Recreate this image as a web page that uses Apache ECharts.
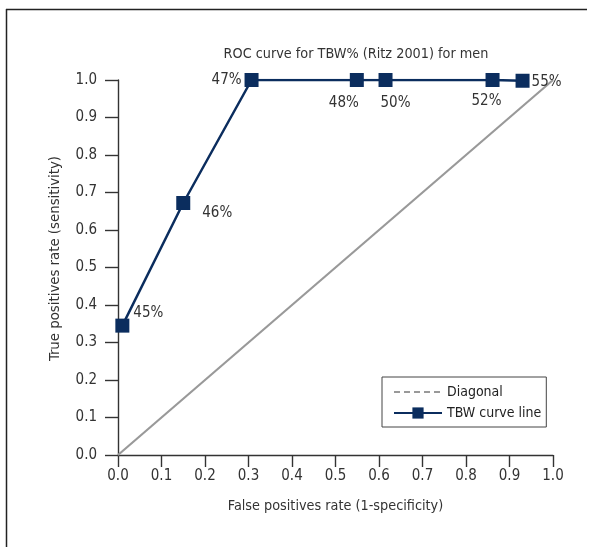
<!DOCTYPE html>
<html>
<head>
<meta charset="utf-8">
<script src="https://cdn.jsdelivr.net/npm/echarts@6/dist/echarts.min.js"></script>
<style>html,body{margin:0;padding:0;background:#fff}#c{width:598px;height:547px}</style>
</head>
<body>
<div id="c"></div>
<script>
var fprValues = [0.01, 0.15, 0.307, 0.549, 0.615, 0.861, 0.93];
var tprValues = [0.345, 0.672, 1.0, 1.0, 1.0, 1.0, 0.998];
var pointLabels = ['45%', '46%', '47%', '48%', '50%', '52%', '55%'];
var diagonalX = [0, 1];
var diagonalY = [0, 1];

var FONT = '"DejaVu Sans Condensed", "Noto Sans", sans-serif';
var NAVY = '#0b2d5e';

// label placement styles (per point)
var labelStyles = [
  { position: 'right', distance: 4, offset: [0, -13] },
  { position: 'right', distance: 12, offset: [0, 10] },
  { position: 'left', distance: 3, offset: [0, 0] },
  { position: 'bottom', distance: 9, offset: [-13, 0] },
  { position: 'bottom', distance: 9, offset: [10, 0] },
  { position: 'bottom', distance: 7, offset: [-6, 0] },
  { position: 'right', distance: 2, offset: [0, 1] }
];

var curveData = fprValues.map(function (x, i) {
  return { value: [x, tprValues[i]], label: labelStyles[i] };
});
var diagData = diagonalX.map(function (x, i) { return [x, diagonalY[i]]; });

var chart = echarts.init(document.getElementById('c'));
chart.setOption({
  animation: false,
  textStyle: { fontFamily: FONT },
  title: {
    text: 'ROC curve for TBW% (Ritz 2001) for men',
    left: 351, top: 42, textAlign: 'center',
    textStyle: { fontFamily: FONT, fontSize: 14.3, fontWeight: 'normal', color: '#333' }
  },
  grid: { left: 118, right: 45, top: 80, bottom: 92, containLabel: false },
  xAxis: {
    type: 'value', min: 0, max: 1, interval: 0.1,
    name: 'False positives rate (1-specificity)',
    nameLocation: 'middle', nameGap: 44,
    nameTextStyle: { fontFamily: FONT, fontSize: 14.3, color: '#333' },
    axisLine: { lineStyle: { color: '#333', width: 1.4 } },
    axisTick: { show: true, inside: false, length: 12, lineStyle: { color: '#333', width: 1.4 } },
    axisLabel: { fontFamily: FONT, fontSize: 15, color: '#333', margin: 14, formatter: function (v) { return v.toFixed(1); } },
    splitLine: { show: false }
  },
  yAxis: {
    type: 'value', min: 0, max: 1, interval: 0.1,
    name: 'True positives rate (sensitivity)',
    nameLocation: 'middle', nameGap: 55, nameRotate: 90,
    nameTextStyle: { fontFamily: FONT, fontSize: 14.8, color: '#333', padding: [0, 0, 0, 18] },
    axisLine: { show: true, lineStyle: { color: '#333', width: 1.4 } },
    axisTick: { show: true, inside: false, length: 13, lineStyle: { color: '#333', width: 1.4 } },
    axisLabel: { fontFamily: FONT, fontSize: 15, color: '#333', margin: 21, formatter: function (v) { return v.toFixed(1); } },
    splitLine: { show: false }
  },
  legend: {
    left: 382, top: 377,
    orient: 'vertical',
    itemWidth: 48, itemHeight: 14, itemGap: 7,
    padding: [8, 5, 7, 11],
    borderColor: '#444', borderWidth: 1,
    textStyle: { fontFamily: FONT, fontSize: 14, color: '#222' },
    data: [
      { name: 'Diagonal', itemStyle: { opacity: 0 }, lineStyle: { type: [6, 4], color: '#999', width: 2 } },
      { name: 'TBW curve line' }
    ]
  },
  graphic: [
    { type: 'line', shape: { x1: 6.5, y1: 9, x2: 6.5, y2: 547 }, style: { stroke: '#222', lineWidth: 1.5 } },
    { type: 'line', shape: { x1: 6, y1: 9.5, x2: 587, y2: 9.5 }, style: { stroke: '#222', lineWidth: 1.5 } }
  ],
  series: [
    {
      name: 'Diagonal', type: 'line', data: diagData,
      symbol: 'none', lineStyle: { color: '#999', width: 2.2 }, itemStyle: { color: '#999' },
      z: 1
    },
    {
      name: 'TBW curve line', type: 'line', data: curveData,
      symbol: 'rect', symbolSize: 14,
      lineStyle: { color: NAVY, width: 2.5 }, itemStyle: { color: NAVY },
      label: { show: true, fontFamily: FONT, fontSize: 15, color: '#333',
        formatter: function (p) { return pointLabels[p.dataIndex]; } },
      z: 3
    }
  ]
});
</script>
</body>
</html>
